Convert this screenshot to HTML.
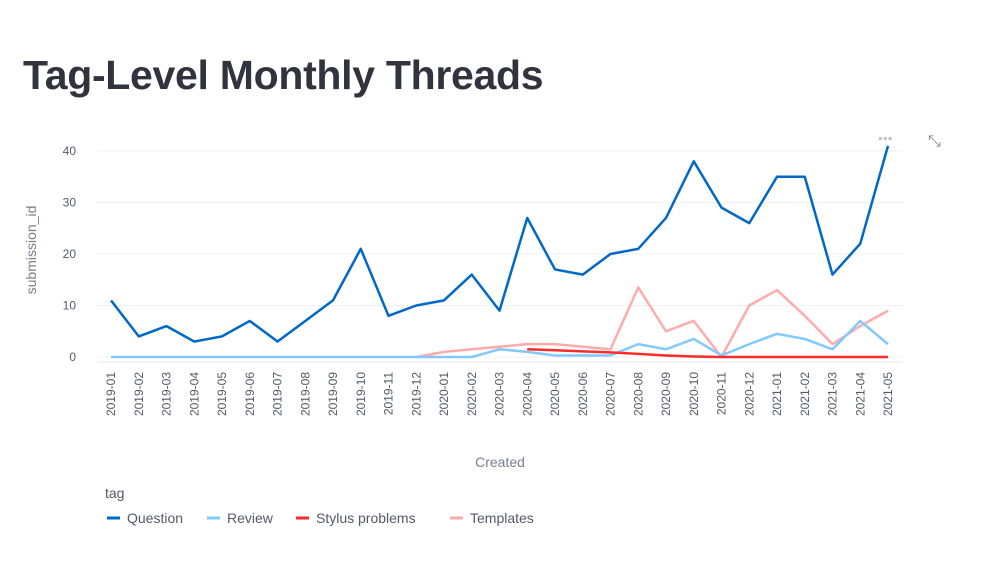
<!DOCTYPE html>
<html><head><meta charset="utf-8"><style>
body{margin:0;background:#fff;font-family:"Liberation Sans",sans-serif;}
</style></head><body>
<div style="position:relative;width:982px;height:578px;">
<div style="position:absolute;left:23px;top:52px;font-size:41px;font-weight:bold;color:#31333F;letter-spacing:-0.3px;">Tag-Level Monthly Threads</div>
<svg id="c" width="982" height="578" style="position:absolute;left:0;top:0"></svg>
</div>
<script>
const months=["2019-01","2019-02","2019-03","2019-04","2019-05","2019-06","2019-07","2019-08","2019-09","2019-10","2019-11","2019-12","2020-01","2020-02","2020-03","2020-04","2020-05","2020-06","2020-07","2020-08","2020-09","2020-10","2020-11","2020-12","2021-01","2021-02","2021-03","2021-04","2021-05"];
const question=[11,4,6,3,4,7,3,7,11,21,8,10,11,16,9,27,17,16,20,21,27,38,29,26,35,35,16,22,41];
const review=[0,0,0,0,0,0,0,0,0,0,0,0,0,0,1.5,1,0.3,0.3,0.3,2.5,1.5,3.5,0.3,2.5,4.5,3.5,1.5,7,2.5];
const stylus=[null,null,null,null,null,null,null,null,null,null,null,null,null,null,null,1.5,1.3,1.1,0.9,0.6,0.3,0.1,0,0,0,0,0,0,0];
const templates=[null,null,null,null,null,null,null,null,null,null,null,0,1,1.5,2,2.5,2.5,2,1.5,13.5,5,7,0,10,13,8,2.5,6,9];
const yTicks=[0,10,20,30,40];
const x=i=>111+i*(888-111)/28;
const y=v=>357-v*(357-151)/40;
const s=document.getElementById('c');const NS="http://www.w3.org/2000/svg";
function mk(t,a,p){const e=document.createElementNS(NS,t);for(const k in a)e.setAttribute(k,a[k]);(p||s).appendChild(e);return e;}
yTicks.forEach(v=>{
 const g=mk('line',{x1:97,x2:903,y1:y(v),y2:y(v),stroke:'#eef0f4','stroke-width':1});
 
 
 const t=mk('text',{x:76,y:y(v)+4,'text-anchor':'end','font-size':12,fill:'#555867'});t.textContent=v;
 
 
});
const ax=mk('line',{x1:97,x2:903,y1:362,y2:362,stroke:'#e4e6ec'});


months.forEach((m,i)=>{
 const t=mk('text',{x:0,y:0,transform:`translate(${x(i)+4},372) rotate(-90)`,'text-anchor':'end','font-size':12,fill:'#555867'});t.textContent=m;
 
 
});
const yt=mk('text',{x:0,y:0,transform:'translate(36,250) rotate(-90)','text-anchor':'middle','font-size':14,fill:'#7a7d8c'});yt.textContent='submission_id';


const xt=mk('text',{x:500,y:467,'text-anchor':'middle','font-size':14,fill:'#7a7d8c'});xt.textContent='Created';


function series(arr,col,name){let d='';let pen=false;arr.forEach((v,i)=>{if(v===null){pen=false;return;}d+=(pen?'L':'M')+x(i)+','+y(v);pen=true;});
 const p=mk('path',{d:d,fill:'none',stroke:col,'stroke-width':2.5,'stroke-linejoin':'round'});
 
 }
series(templates,'#ffabab','templates-line');
series(review,'#83c9ff','review-line');
series(stylus,'#ff2b2b','stylus-problems-line');
series(question,'#0068c9','question-line');
const lt=mk('text',{x:105,y:498,'font-size':14,fill:'#555867'});lt.textContent='tag';


const leg=[['Question','#0068c9',107],['Review','#83c9ff',207],['Stylus problems','#ff2b2b',296],['Templates','#ffabab',450]];
leg.forEach(([n,c,lx])=>{
 const g=mk('g',{});
 
 
 mk('line',{x1:lx,x2:lx+13,y1:518,y2:518,stroke:c,'stroke-width':3},g);
 const t=mk('text',{x:lx+20,y:523,'font-size':14,fill:'#555867'},g);t.textContent=n;
});
const dots=mk('text',{x:878,y:143,'font-size':14,fill:'#c5c7cf'});dots.textContent='•••';


const fs=mk('text',{x:928,y:146,'font-size':16,fill:'#7a7d8c'});fs.textContent='⤡';


</script>
</body></html>
